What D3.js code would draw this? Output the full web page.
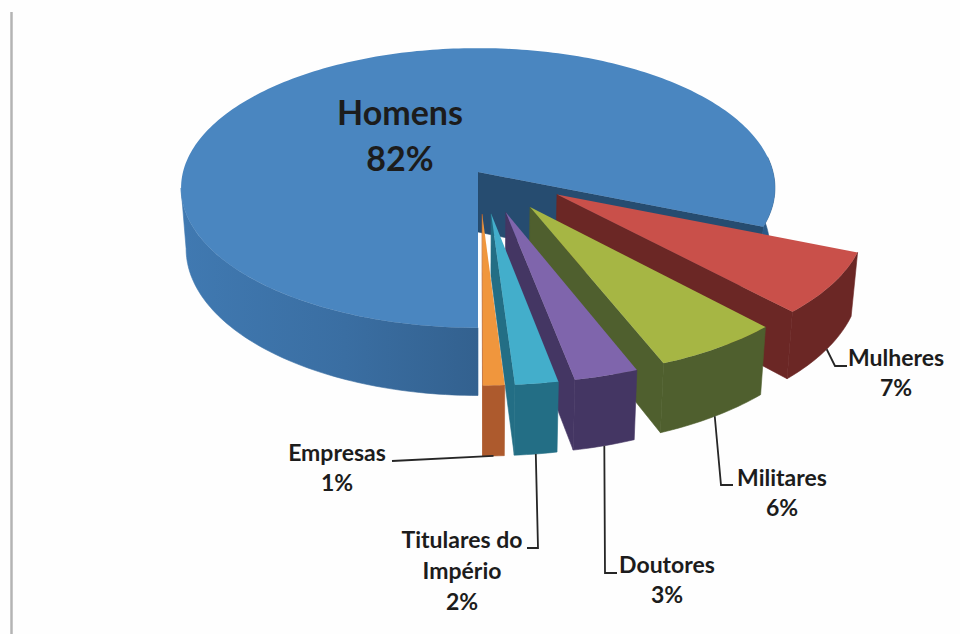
<!DOCTYPE html>
<html lang="pt">
<head>
<meta charset="utf-8">
<title>Eleitores por categoria</title>
<script src="https://cdn.jsdelivr.net/npm/d3@7"></script>
<style>
  html, body { margin: 0; padding: 0; background: #fefefe; }
  svg { display: block; }
  text { font-family: Lato, "Open Sans", sans-serif; font-weight: 700; fill: #1c1c1c; text-anchor: middle; }
</style>
</head>
<body>
<svg id="chart" width="960" height="634"></svg>
<script>
// Slice data, in drawing order clockwise from the bottom of the pie
const categories = ["Homens", "Mulheres", "Militares", "Doutores", "Titulares do Império", "Empresas"];
const percents = [82, 7, 6, 3, 2, 1];
const percentLabels = ["82%", "7%", "6%", "3%", "2%", "1%"];
const labelLines = [["Homens"], ["Mulheres"], ["Militares"], ["Doutores"], ["Titulares do", "Império"], ["Empresas"]];

const topColors = ["#4a86c0", "#c9504a", "#a6b644", "#7f65ac", "#43aecb", "#f0963d"];
const wallColors = ["#33618f", "#6b2725", "#4f5f2e", "#443663", "#236e85", "#ad5a2d"];

// Perspective set-up of the pie plane: unit circle to page pixels
const perspective = 0.114;
const thickness = 60;
const lowerFaceShrink = 0.983;
const explodeBy = 0.315;
const explodeNudge = [0.004, -0.02];
const explodedRadius = 1.02;
const centerX = 478;
const x = d3.scaleLinear().domain([-1, 1]).range([centerX - 295, centerX + 295]);
const y = d3.scaleLinear().domain([-1, 1]).range([172 - 138, 172 + 138]);

function project(u, v, lower) {
  const w = 1 - perspective * v;
  const px = x(u / w);
  const py = y(v / w);
  return lower
    ? [centerX + (px - centerX) * lowerFaceShrink, py + thickness / w]
    : [px, py];
}

// Angle is clockwise from the back of the pie
const pie = d3.pie().sort(null).value(d => d).startAngle(Math.PI).endAngle(3 * Math.PI);
const arcs = pie(percents);
const line = d3.line();

function offsetOf(arc, index) {
  if (index === 0) return [0, 0];
  const mid = (arc.startAngle + arc.endAngle) / 2;
  return [Math.sin(mid) * explodeBy + explodeNudge[0], -Math.cos(mid) * explodeBy + explodeNudge[1]];
}

function rimPoint(a, off, r, lower) {
  return project(off[0] + r * Math.sin(a), off[1] - r * Math.cos(a), lower);
}

function rimPoints(a0, a1, off, r, lower) {
  const steps = Math.max(2, Math.ceil(Math.abs(a1 - a0) / 0.02));
  return d3.range(steps + 1).map(i => rimPoint(a0 + (a1 - a0) * i / steps, off, r, lower));
}

const svg = d3.select("#chart");

const defs = svg.append("defs");
const shade = defs.append("linearGradient").attr("id", "mainWall")
  .attr("gradientUnits", "userSpaceOnUse")
  .attr("x1", x(-1)).attr("x2", centerX).attr("y1", 0).attr("y2", 0);
shade.append("stop").attr("offset", 0).attr("stop-color", "#4079b1");
shade.append("stop").attr("offset", 0.55).attr("stop-color", "#3a6ea2");
shade.append("stop").attr("offset", 1).attr("stop-color", "#33618f");

// Thin rule down the left side of the figure
svg.append("line")
  .attr("x1", 11.5).attr("x2", 11.5).attr("y1", 12).attr("y2", 634)
  .attr("stroke", "#b4b4b4").attr("stroke-width", 2.5);

const marks = svg.append("g");

function face(g, points, fill) {
  g.append("path").attr("d", line(points) + "Z")
    .attr("fill", fill).attr("stroke", fill).attr("stroke-width", 0.6);
}

arcs.forEach((arc, i) => {
  const off = offsetOf(arc, i);
  const r = i === 0 ? 1 : explodedRadius;
  const a0 = arc.startAngle;
  const a1 = arc.endAngle;
  const apexTop = project(off[0], off[1], false);
  const apexLow = project(off[0], off[1], true);
  const cornerTop = rimPoint(a1, off, r, false);
  const cornerLow = rimPoint(a1, off, r, true);
  const g = marks.append("g").attr("class", "slice");

  if (i === 0) {
    // Cut face on the far edge of the gap, seen from inside
    face(g, [apexTop, cornerTop, cornerLow, apexLow], "#264c70");
    // Outer wall, from the bottom of the pie round to the left silhouette tangent
    const turn = a0 + Math.PI / 2 - Math.asin(perspective);
    face(g, rimPoints(a0, turn, off, r, false).concat(rimPoints(turn, a0, off, r, true)), "url(#mainWall)");
    // Short visible wall on the right, before the cut
    face(g, rimPoints(a1 - 0.5, a1, off, r, false).concat(rimPoints(a1, a1 - 0.5, off, r, true)), "#2a5a88");
  } else {
    // Side face on the left of the slice, then its outer wall
    face(g, [apexTop, cornerTop, cornerLow, apexLow], wallColors[i]);
    face(g, rimPoints(a0, a1, off, r, false).concat(rimPoints(a1, a0, off, r, true)), wallColors[i]);
  }

  g.append("path")
    .attr("d", line([apexTop].concat(rimPoints(a0, a1, off, r, false))) + "Z")
    .attr("fill", topColors[i]);
});

// Leader line bends and label centres, in page pixels
const leaderBends = [
  null,
  [[835, 366], [847, 366]],
  [[721, 485], [733, 485]],
  [[605, 573], [617, 573]],
  [[538, 548], [527, 548]],
  [[392, 461]]
];
const labelSpots = [
  { cx: 400, base: 125, step: 46, size: 34 },
  { cx: 896, base: 366, step: 30, size: 23 },
  { cx: 782, base: 486, step: 30, size: 23 },
  { cx: 667, base: 573, step: 30, size: 23 },
  { cx: 462, base: 548, step: 31, size: 23 },
  { cx: 337, base: 461, step: 30, size: 23 }
];

const leaders = svg.append("g");
arcs.forEach((arc, i) => {
  if (!leaderBends[i]) return;
  const off = offsetOf(arc, i);
  const mid = (arc.startAngle + arc.endAngle) / 2;
  const start = rimPoint(mid, off, explodedRadius, true);
  leaders.append("path")
    .attr("d", line([start].concat(leaderBends[i])))
    .attr("fill", "none").attr("stroke", "#262626").attr("stroke-width", 1.8);
});

const labels = svg.append("g");
categories.forEach((name, i) => {
  const spot = labelSpots[i];
  const t = labels.append("text").attr("font-size", spot.size).attr("aria-label", name);
  labelLines[i].concat(percentLabels[i]).forEach((str, k) => {
    t.append("tspan").attr("x", spot.cx).attr("y", spot.base + k * spot.step).text(str);
  });
});
</script>
</body>
</html>
